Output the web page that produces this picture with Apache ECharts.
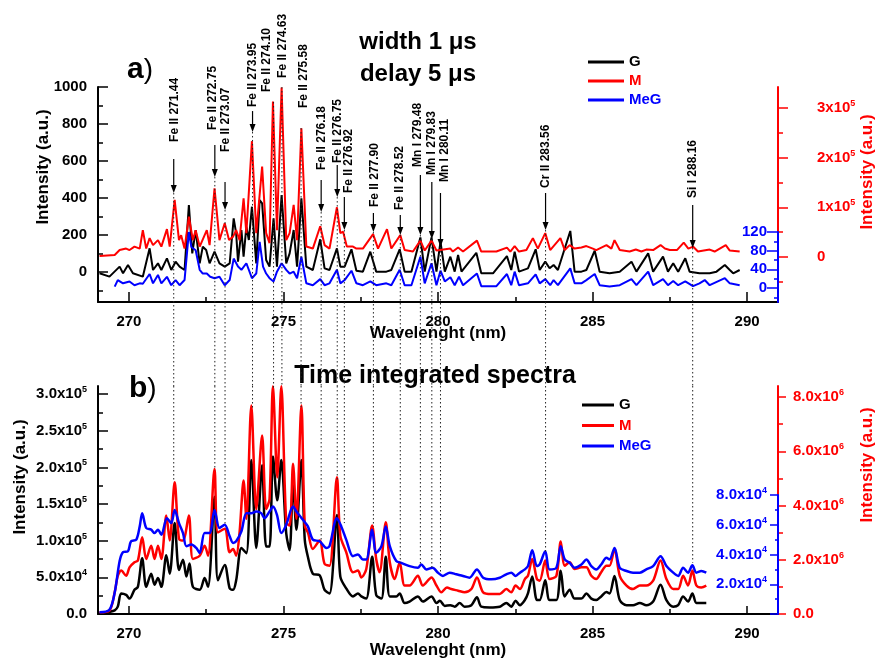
<!DOCTYPE html>
<html>
<head>
    <meta charset="utf-8">
    <title>LIBS spectra</title>
    <script src="https://cdn.jsdelivr.net/npm/echarts@6.0.0/dist/echarts.min.js"></script>
    <style>
        body { margin: 0; background: #fff; }
        #chart { width: 875px; height: 660px; }
    </style>
</head>
<body>
<div id="chart"></div>
<script>
// ---- panel a) width 1 us, delay 5 us ----
// G on left axis (a.u.)
const gA = [[269.05,-7],[269.37,-25],[269.70,29],[269.81,-7],[269.97,38],[270.13,-7],[270.45,-25],[270.67,128],[270.78,11],[270.94,47],[271.05,11],[271.23,74],[271.37,11],[271.51,56],[271.64,29],[271.80,11],[271.94,362],[272.05,101],[272.16,227],[272.29,47],[272.39,137],[272.50,119],[272.61,47],[272.77,110],[272.93,47],[273.10,29],[273.26,47],[273.39,290],[273.47,209],[273.53,56],[273.64,227],[273.71,83],[273.80,245],[273.88,173],[273.98,353],[274.12,47],[274.23,389],[274.31,371],[274.44,65],[274.55,29],[274.68,290],[274.79,29],[274.94,416],[275.09,47],[275.20,101],[275.33,227],[275.44,29],[275.58,398],[275.74,29],[275.95,11],[276.19,177],[276.33,20],[276.49,11],[276.73,128],[276.84,29],[276.98,29],[277.20,123],[277.36,7],[277.57,2],[277.81,110],[278.00,2],[278.33,2],[278.49,11],[278.76,123],[278.92,2],[279.14,2],[279.43,187],[279.57,2],[279.79,187],[279.95,2],[280.08,164],[280.22,2],[280.40,83],[280.54,2],[280.65,92],[280.76,2],[281.24,104],[281.40,-7],[281.78,-7],[282.23,86],[282.37,11],[282.48,110],[282.62,2],[282.91,20],[283.16,123],[283.29,11],[283.47,56],[283.61,20],[283.74,38],[283.88,11],[284.28,222],[284.42,2],[284.64,2],[284.80,11],[285.07,115],[285.23,2],[285.55,-7],[285.88,2],[286.26,56],[286.42,2],[286.80,101],[286.96,2],[287.28,83],[287.44,2],[287.61,47],[287.77,2],[288.00,74],[288.14,2],[288.46,-7],[288.79,-7],[289.01,2],[289.28,38],[289.44,11],[289.55,-7],[289.76,11]];
// M on red axis (x1e5)
const mA = [[269.05,0.02],[269.54,0.04],[269.70,0.14],[269.91,0.17],[270.02,0.14],[270.18,0.21],[270.35,0.17],[270.45,0.54],[270.56,0.17],[270.67,0.38],[270.78,0.24],[270.94,0.34],[271.05,0.21],[271.23,0.56],[271.32,0.21],[271.48,1.15],[271.62,0.34],[271.69,0.44],[271.80,0.17],[271.94,0.81],[272.07,0.34],[272.16,0.54],[272.29,0.21],[272.52,0.54],[272.61,0.24],[272.77,1.38],[272.93,0.34],[273.10,0.68],[273.24,0.34],[273.37,0.41],[273.47,0.54],[273.58,0.34],[273.71,1.18],[273.80,0.48],[273.98,2.33],[274.12,0.48],[274.31,1.82],[274.44,0.48],[274.55,0.28],[274.66,3.13],[274.79,0.54],[274.94,3.41],[275.09,0.34],[275.20,0.48],[275.33,1.05],[275.44,0.34],[275.58,2.59],[275.74,0.21],[275.95,0.17],[276.19,0.62],[276.33,0.24],[276.49,0.17],[276.73,1.00],[276.84,0.48],[276.93,0.51],[277.05,0.21],[277.25,0.21],[277.36,0.17],[277.57,0.17],[277.90,0.46],[278.06,0.17],[278.35,0.56],[278.49,0.17],[278.78,0.44],[278.92,0.14],[279.19,0.11],[279.43,0.33],[279.57,0.13],[279.79,0.33],[279.95,0.13],[280.40,0.17],[280.48,0.11],[280.65,0.19],[280.81,0.11],[281.26,0.33],[281.40,0.11],[281.89,0.11],[282.23,0.19],[282.34,0.11],[282.48,0.22],[282.62,0.11],[282.86,0.14],[283.07,0.38],[283.23,0.17],[283.47,0.48],[283.63,0.14],[283.96,0.38],[284.10,0.14],[284.26,0.24],[284.42,0.17],[284.64,0.19],[284.80,0.22],[285.01,0.17],[285.12,0.14],[285.45,0.24],[285.61,0.17],[285.71,0.34],[285.88,0.14],[286.20,0.11],[286.40,0.15],[286.58,0.11],[286.74,0.15],[286.96,0.14],[287.20,0.24],[287.34,0.17],[287.50,0.14],[287.73,0.14],[287.95,0.29],[288.10,0.17],[288.25,0.21],[288.41,0.11],[288.79,0.15],[288.95,0.11],[289.31,0.24],[289.44,0.13],[289.76,0.11]];
// MeG on blue axis (a.u.)
const megA = [[269.54,3],[269.64,17],[269.81,10],[270.02,14],[270.18,6],[270.35,10],[270.45,9],[270.67,30],[270.78,10],[270.94,28],[271.05,10],[271.23,24],[271.37,6],[271.51,17],[271.64,6],[271.80,17],[271.94,120],[272.02,88],[272.16,81],[272.29,39],[272.39,31],[272.52,31],[272.63,24],[272.77,21],[272.93,24],[273.10,6],[273.26,17],[273.39,63],[273.53,46],[273.64,39],[273.80,53],[273.98,21],[274.12,31],[274.23,99],[274.34,46],[274.44,31],[274.55,21],[274.68,14],[274.79,35],[274.94,53],[275.09,39],[275.20,31],[275.33,35],[275.44,21],[275.58,67],[275.74,10],[275.95,6],[276.19,19],[276.33,6],[276.49,10],[276.73,39],[276.84,10],[276.98,17],[277.20,37],[277.36,10],[277.57,6],[277.81,14],[278.00,6],[278.33,10],[278.49,6],[278.76,39],[278.92,6],[279.14,6],[279.43,67],[279.57,10],[279.79,53],[279.95,6],[280.08,37],[280.22,14],[280.40,23],[280.54,6],[280.68,24],[280.81,6],[281.26,31],[281.40,4],[281.89,4],[282.23,30],[282.37,6],[282.48,35],[282.62,6],[282.91,10],[283.16,29],[283.29,10],[283.47,19],[283.63,6],[283.74,17],[283.88,6],[284.28,42],[284.42,10],[284.64,10],[284.80,17],[285.07,30],[285.23,6],[285.55,3],[285.88,6],[286.26,19],[286.42,6],[286.80,35],[286.96,6],[287.28,19],[287.44,6],[287.61,15],[287.77,6],[288.00,14],[288.25,4],[288.46,10],[288.63,17],[288.79,6],[289.28,21],[289.44,10],[289.76,6]];

// ---- panel b) time integrated ----
// G on left axis (x1e5)
const gB = [[269.05,0.01],[269.37,0.03],[269.54,0.05],[269.64,0.10],[269.75,0.28],[269.91,0.26],[270.02,0.21],[270.18,0.33],[270.29,0.37],[270.43,0.76],[270.56,0.37],[270.72,0.55],[270.83,0.40],[270.94,0.49],[271.05,0.37],[271.21,0.80],[271.32,0.55],[271.48,1.24],[271.62,0.60],[271.75,0.74],[271.86,0.51],[271.96,0.69],[272.07,0.37],[272.29,0.33],[272.45,0.49],[272.56,0.37],[272.77,1.60],[272.88,0.46],[273.10,0.67],[273.26,0.35],[273.37,0.33],[273.47,0.46],[273.64,0.90],[273.80,0.83],[273.96,2.10],[274.12,0.90],[274.31,2.03],[274.44,0.92],[274.55,0.92],[274.66,2.15],[274.80,1.55],[274.93,2.10],[275.09,1.10],[275.20,0.87],[275.31,1.80],[275.42,1.15],[275.58,2.10],[275.69,1.01],[275.79,0.78],[275.95,0.55],[276.17,0.53],[276.33,0.33],[276.49,0.28],[276.73,1.35],[276.84,0.51],[277.03,0.35],[277.25,0.24],[277.41,0.28],[277.52,0.24],[277.68,0.21],[277.87,0.78],[278.00,0.26],[278.17,0.21],[278.31,0.78],[278.44,0.24],[278.65,0.24],[278.76,0.28],[278.92,0.15],[279.08,0.17],[279.35,0.24],[279.51,0.17],[279.79,0.24],[279.95,0.15],[280.06,0.18],[280.22,0.11],[280.40,0.12],[280.54,0.10],[280.70,0.15],[280.86,0.10],[281.08,0.12],[281.26,0.23],[281.40,0.10],[281.67,0.09],[282.00,0.10],[282.21,0.15],[282.37,0.10],[282.51,0.18],[282.65,0.12],[282.81,0.19],[282.91,0.28],[283.05,0.51],[283.20,0.19],[283.29,0.19],[283.47,0.46],[283.61,0.19],[283.83,0.19],[283.97,0.59],[284.10,0.24],[284.26,0.33],[284.42,0.21],[284.64,0.21],[284.80,0.28],[284.96,0.21],[285.12,0.19],[285.28,0.24],[285.45,0.30],[285.55,0.28],[285.71,0.52],[285.88,0.19],[286.10,0.12],[286.31,0.12],[286.53,0.15],[286.74,0.12],[286.96,0.17],[287.20,0.40],[287.39,0.19],[287.61,0.10],[287.77,0.12],[287.93,0.24],[288.09,0.17],[288.23,0.28],[288.36,0.15],[288.52,0.15],[288.68,0.15]];
// M on red axis (x1e6)
const mB = [[269.05,0.06],[269.37,0.12],[269.54,0.80],[269.64,1.41],[269.75,1.60],[269.91,1.41],[270.02,1.72],[270.18,1.91],[270.29,1.97],[270.43,2.83],[270.56,2.03],[270.72,2.52],[270.83,2.03],[270.94,2.52],[271.05,2.03],[271.21,3.63],[271.32,2.71],[271.48,4.86],[271.62,2.77],[271.75,2.71],[271.94,3.63],[272.07,2.03],[272.29,2.15],[272.45,2.52],[272.56,2.15],[272.77,5.35],[272.88,3.01],[273.10,3.14],[273.26,2.28],[273.37,2.40],[273.47,2.15],[273.58,3.01],[273.71,4.92],[273.80,3.51],[273.96,7.69],[274.12,3.87],[274.31,6.58],[274.44,3.87],[274.55,4.24],[274.66,8.40],[274.80,5.04],[274.93,8.40],[275.09,3.38],[275.20,3.26],[275.31,5.54],[275.42,3.51],[275.58,7.69],[275.69,3.26],[275.79,3.01],[275.95,2.40],[276.17,2.71],[276.33,1.85],[276.49,1.78],[276.73,5.04],[276.84,2.89],[277.03,2.28],[277.25,1.54],[277.41,1.60],[277.52,1.35],[277.68,1.66],[277.87,3.26],[278.00,2.03],[278.11,1.54],[278.31,3.38],[278.44,1.91],[278.60,1.29],[278.76,1.91],[278.92,1.05],[279.08,1.05],[279.35,1.41],[279.51,1.05],[279.79,1.35],[279.95,1.05],[280.11,0.80],[280.29,0.98],[280.43,0.92],[280.65,0.86],[280.86,0.80],[281.08,0.92],[281.26,1.35],[281.46,0.80],[281.73,0.74],[282.00,0.74],[282.21,0.92],[282.37,0.80],[282.51,1.05],[282.65,0.92],[282.81,1.29],[282.91,1.41],[283.05,2.03],[283.20,1.29],[283.29,1.23],[283.47,1.97],[283.61,1.29],[283.83,1.41],[283.97,2.67],[284.10,1.78],[284.26,1.91],[284.42,1.66],[284.64,1.72],[284.80,1.72],[284.96,1.41],[285.12,1.29],[285.28,1.54],[285.45,1.78],[285.55,1.78],[285.71,2.40],[285.88,1.41],[286.10,1.05],[286.31,0.92],[286.53,1.05],[286.74,1.05],[286.96,1.23],[287.20,1.97],[287.39,1.29],[287.61,0.92],[287.77,0.92],[287.93,1.41],[288.09,1.05],[288.23,1.60],[288.36,1.05],[288.52,0.98],[288.68,1.05]];
// MeG on blue axis (x1e4)
const megB = [[269.05,0.11],[269.37,0.29],[269.54,1.44],[269.70,3.56],[269.81,4.16],[269.97,4.22],[270.07,4.89],[270.24,5.00],[270.35,5.89],[270.43,6.78],[270.56,5.78],[270.72,5.67],[270.83,5.44],[270.94,5.67],[271.05,5.33],[271.23,6.44],[271.37,6.11],[271.48,7.00],[271.62,6.11],[271.75,5.44],[271.86,4.56],[272.02,4.67],[272.18,4.44],[272.29,4.11],[272.45,5.44],[272.61,5.44],[272.77,7.00],[272.93,5.78],[273.10,6.00],[273.26,5.22],[273.37,4.78],[273.47,4.89],[273.64,5.56],[273.80,6.78],[273.96,6.78],[274.12,6.89],[274.28,6.78],[274.39,6.44],[274.55,6.89],[274.66,7.22],[274.79,6.67],[274.93,5.44],[275.09,6.00],[275.31,7.22],[275.42,6.89],[275.63,6.33],[275.79,5.89],[275.95,5.00],[276.17,4.89],[276.39,4.44],[276.49,4.56],[276.73,6.44],[276.87,5.89],[277.03,5.00],[277.25,3.89],[277.41,4.00],[277.57,3.67],[277.68,3.67],[277.87,5.67],[278.00,4.11],[278.17,4.56],[278.31,5.89],[278.44,4.56],[278.65,3.56],[278.81,3.44],[279.08,3.22],[279.35,3.11],[279.46,3.33],[279.62,3.00],[279.82,3.11],[280.00,2.78],[280.16,2.56],[280.38,2.78],[280.59,2.67],[280.81,2.56],[281.02,2.44],[281.26,3.00],[281.46,2.44],[281.73,2.33],[282.00,2.44],[282.21,2.67],[282.37,2.78],[282.51,2.56],[282.65,2.78],[282.81,3.00],[282.91,3.22],[283.05,4.29],[283.20,3.22],[283.29,3.33],[283.47,4.22],[283.61,3.00],[283.83,3.11],[283.97,4.56],[284.10,3.67],[284.26,3.44],[284.42,3.11],[284.64,3.33],[284.80,3.67],[284.96,3.22],[285.12,3.00],[285.28,3.33],[285.45,3.78],[285.55,3.67],[285.71,4.44],[285.88,3.11],[286.10,2.89],[286.31,2.78],[286.53,2.78],[286.74,3.00],[286.96,3.22],[287.20,3.89],[287.39,3.22],[287.61,2.78],[287.77,2.56],[287.93,3.11],[288.09,2.78],[288.23,3.27],[288.36,2.78],[288.52,2.89],[288.68,2.78]];

// ---- line identification ----
const lineLabels = ['Fe II 271.44','Fe II 272.75','Fe II 273.07','Fe II 273.95','Fe II 274.10','Fe II 274.63','Fe II 275.58','Fe II 276.18','Fe II 276.75','Fe II 276.92','Fe II 277.90','Fe II 278.52','Mn I 279.48','Mn I 279.83','Mn I 280.11','Cr II 283.56','Si I 288.16'];
const lineX     = [271.45, 272.78, 273.11, 274.00, 274.68, 274.95, 275.57, 276.22, 276.74, 276.97, 277.91, 278.78, 279.43, 279.80, 280.08, 283.48, 288.24];
const labelX    = [271.48, 272.72, 273.14, 274.02, 274.47, 274.99, 275.64, 276.25, 276.74, 277.10, 277.94, 278.76, 279.34, 279.80, 280.22, 283.48, 288.23];
const labelBase = [703, 768, 649, 892, 973, 1049, 886, 551, 589, 427, 351, 335, 568, 524, 486, 454, 400];
const arrowFrom = [611, 686, 486, 870, null, null, null, 497, 578, 405, 319, 308, 524, 486, 427, 427, 362];
const arrowTo   = [427, 514, 335, 757, 919, 1000, 778, 324, 405, 227, 216, 200, 200, 178, 135, 227, 130];
const dotEndB   = [1.80, 1.96, 1.21, 2.81, 3.08, 3.11, 2.82, 1.01, 1.83, 1.24, 1.19, 0.70, 0.67, 0.63, 0.56, 0.83, 0.70];

// ---- ticks ----
const xMajor = [270, 275, 280, 285, 290];
const xMinor = [272.5, 277.5, 282.5, 287.5];
const yA = [0, 200, 400, 600, 800, 1000];
const yAMinor = [-100, 100, 300, 500, 700, 900];
const redA = [0, 1, 2, 3];
const redAMinor = [-0.5, 0.5, 1.5, 2.5];
const blueA = [0, 40, 80, 120];
const blueAMinor = [-20, 20, 60, 100];
const yB = [0, 0.5, 1, 1.5, 2, 2.5, 3];
const yBMinor = [0.25, 0.75, 1.25, 1.75, 2.25, 2.75];
const redB = [0, 2, 4, 6, 8];
const redBMinor = [1, 3, 5, 7];
const blueB = [0, 2, 4, 6, 8];
const blueBMinor = [1, 3, 5, 7];

const FONT = '"Liberation Sans", Arial, sans-serif';
const BLACK = '#000000', RED = '#ff0000', BLUE = '#0000ff';

// layout
const L = 98, W = 680;
const A_TOP = 87, A_H = 215;
const B_TOP = 386, B_H = 228;

function sup(m, e) { return '{n|' + m + 'x10}{s|' + e + '}'; }
function rich(color) {
    return {
        n: { color: color, fontFamily: FONT, fontSize: 15, fontWeight: 'bold', lineHeight: 18 },
        s: { color: color, fontFamily: FONT, fontSize: 9, fontWeight: 'bold', lineHeight: 10, verticalAlign: 'top' }
    };
}
const lbl = { fontFamily: FONT, fontSize: 15, fontWeight: 'bold' };
const plain = v => '{n|' + v + '}';

// main axis with line, big ticks and labels
function mainAxis(grid, pos, min, max, color, ticks, len, inside, margin, formatter, labelInside, extra) {
    return Object.assign({
        type: 'value', gridIndex: grid, position: pos, min: min, max: max,
        axisLine: { show: true, onZero: false, lineStyle: { color: color, width: 2 } },
        splitLine: { show: false },
        axisTick: { show: true, inside: inside, length: len, customValues: ticks, lineStyle: { color: color, width: 1.5 } },
        axisLabel: Object.assign({ show: true, inside: !!labelInside, customValues: ticks, margin: margin, color: color, formatter: formatter, rich: rich(color) }, lbl)
    }, extra || {});
}
// axis that only draws small ticks
function minorAxis(grid, pos, min, max, color, ticks, len, inside, extra) {
    return Object.assign({
        type: 'value', gridIndex: grid, position: pos, min: min, max: max,
        axisLine: { show: false, onZero: false }, splitLine: { show: false }, axisLabel: { show: false },
        axisTick: { show: true, inside: inside, length: len, customValues: ticks, lineStyle: { color: color, width: 1.5 } }
    }, extra || {});
}
function hiddenX(grid) {
    return { type: 'value', gridIndex: grid, min: 269, max: 291, show: false, axisLine: { onZero: false } };
}

const xName = { fontFamily: FONT, fontSize: 17, fontWeight: 'bold', color: BLACK };

const chart = echarts.init(document.getElementById('chart'));

function drawLabels(params, api) {
    const i = api.value(2);
    const cs = params.coordSys;
    const t = api.coord([labelX[i], labelBase[i]]);
    const tip = api.coord([lineX[i], arrowTo[i]]);
    const yEnd = cs.y + cs.height + (B_TOP - A_TOP - A_H);
    const kids = [
        { type: 'line', shape: { x1: tip[0], y1: tip[1], x2: tip[0], y2: yEnd },
          style: { stroke: '#222', lineWidth: 1, lineDash: [1.5, 2.5] } },
        { type: 'text', x: t[0], y: t[1], rotation: Math.PI / 2,
          style: { text: lineLabels[i], fill: BLACK, font: 'bold 12px ' + FONT, align: 'left', verticalAlign: 'middle' } }
    ];
    if (arrowFrom[i] !== null) {
        const top = api.coord([lineX[i], arrowFrom[i]]);
        kids.push({ type: 'line', shape: { x1: top[0], y1: top[1], x2: tip[0], y2: tip[1] - 6 },
                    style: { stroke: BLACK, lineWidth: 1.2 } });
        kids.push({ type: 'polygon', shape: { points: [[tip[0] - 3, tip[1] - 8], [tip[0] + 3, tip[1] - 8], [tip[0], tip[1]]] },
                    style: { fill: BLACK } });
    }
    return { type: 'group', children: kids };
}

function drawDots(params, api) {
    const cs = params.coordSys;
    const p = api.coord([api.value(0), api.value(1)]);
    return { type: 'line', shape: { x1: p[0], y1: cs.y, x2: p[0], y2: p[1] },
             style: { stroke: '#222', lineWidth: 1, lineDash: [1.5, 2.5] } };
}

function lineSeries(name, color, data, xi, yi, width, smooth) {
    return {
        name: name, type: 'line', data: data, xAxisIndex: xi, yAxisIndex: yi,
        showSymbol: false, symbol: 'none', smooth: smooth, clip: false,
        color: color, lineStyle: { color: color, width: width }
    };
}

function legendCfg(left, top, w, gap) {
    return {
        orient: 'vertical', left: left, top: top, padding: 0, itemGap: gap,
        itemWidth: w, itemHeight: 3, icon: 'rect', selectedMode: false,
        textStyle: { fontFamily: FONT, fontSize: 15, fontWeight: 'bold', lineHeight: 15 },
        data: [
            { name: 'G', textStyle: { color: BLACK } },
            { name: 'M', textStyle: { color: RED } },
            { name: 'MeG', textStyle: { color: BLUE } }
        ]
    };
}

function rotName(x, y, color) {
    return { type: 'text', x: x, y: y, rotation: Math.PI / 2,
             style: { text: 'Intensity (a.u.)', fill: color, font: 'bold 17px ' + FONT, align: 'center', verticalAlign: 'middle' } };
}

const option = {
    animation: false,
    backgroundColor: '#ffffff',
    grid: [
        { left: L, top: A_TOP, width: W, height: A_H, outerBoundsMode: 'none' },
        { left: L, top: 232, width: W, height: 70, outerBoundsMode: 'none' },
        { left: L, top: B_TOP, width: W, height: B_H, outerBoundsMode: 'none' },
        { left: L, top: 495, width: W, height: 119, outerBoundsMode: 'none' }
    ],
    xAxis: [
        mainAxis(0, 'bottom', 269, 291, BLACK, xMajor, 10, true, 11, plain, false,
                 { name: 'Wavelenght (nm)', nameLocation: 'middle', nameGap: 23, nameMoveOverlap: false, nameTextStyle: xName }),
        minorAxis(0, 'bottom', 269, 291, BLACK, xMinor, 5, true),
        hiddenX(1),
        mainAxis(2, 'bottom', 269, 291, BLACK, xMajor, 8, true, 11, plain, false,
                 { name: 'Wavelenght (nm)', nameLocation: 'middle', nameGap: 28, nameMoveOverlap: false, nameTextStyle: xName }),
        minorAxis(2, 'bottom', 269, 291, BLACK, xMinor, 5, true),
        hiddenX(3)
    ],
    yAxis: [
        // panel a
        mainAxis(0, 'left', -162, 1000, BLACK, yA, 10, true, 11, plain),
        minorAxis(0, 'left', -162, 1000, BLACK, yAMinor, 5, true),
        mainAxis(0, 'right', -0.905, 3.42, RED, redA, 10, false, 39,
                 v => v === 0 ? plain(0) : sup(v, 5)),
        minorAxis(0, 'right', -0.905, 3.42, RED, redAMinor, 5, false),
        mainAxis(1, 'right', -30, 120, BLUE, blueA, 11, true, 11, plain, true, { z: 5 }),
        minorAxis(1, 'right', -30, 120, BLUE, blueAMinor, 4, true, { z: 5 }),
        // panel b
        mainAxis(2, 'left', 0, 3.11, BLACK, yB, 10, true, 11,
                 v => v === 0 ? plain('0.0') : (v < 1 ? sup((v * 10).toFixed(1), 4) : sup(v.toFixed(1), 5))),
        minorAxis(2, 'left', 0, 3.11, BLACK, yBMinor, 5, true),
        mainAxis(2, 'right', 0, 8.41, RED, redB, 8, false, 15,
                 v => v === 0 ? plain('0.0') : sup(v.toFixed(1), 6)),
        minorAxis(2, 'right', 0, 8.41, RED, redBMinor, 5, false),
        mainAxis(3, 'right', 0, 8, BLUE, blueB, 8, true, 11,
                 v => v === 0 ? '' : sup(v.toFixed(1), 4), true, { z: 5 }),
        minorAxis(3, 'right', 0, 8, BLUE, blueBMinor, 3, true, { z: 5 })
    ],
    legend: [legendCfg(588, 54.5, 36, 4), legendCfg(582, 397.5, 32, 5.5)],
    graphic: [
        { type: 'text', x: 127, y: 70,
          style: { text: '{a|a}{p|)}', fill: BLACK, verticalAlign: 'middle',
                   rich: { a: { font: 'bold 30px ' + FONT, fill: BLACK }, p: { font: '28px ' + FONT, fill: BLACK } } } },
        { type: 'text', x: 129, y: 389,
          style: { text: '{a|b}{p|)}', fill: BLACK, verticalAlign: 'middle',
                   rich: { a: { font: 'bold 30px ' + FONT, fill: BLACK }, p: { font: '28px ' + FONT, fill: BLACK } } } },
        { type: 'text', x: 418, y: 42,
          style: { text: 'width 1 μs', fill: BLACK, font: 'bold 24px ' + FONT, align: 'center', verticalAlign: 'middle' } },
        { type: 'text', x: 418, y: 74,
          style: { text: 'delay 5 μs', fill: BLACK, font: 'bold 24px ' + FONT, align: 'center', verticalAlign: 'middle' } },
        { type: 'text', x: 435, y: 376,
          style: { text: 'Time integrated spectra', fill: BLACK, font: 'bold 25px ' + FONT, align: 'center', verticalAlign: 'middle' } },
        rotName(43, 167, BLACK),
        rotName(867, 172, RED),
        rotName(20, 477, BLACK),
        rotName(867, 465, RED)
    ],
    series: [
        lineSeries('G', BLACK, gA, 0, 0, 2, false),
        lineSeries('M', RED, mA, 0, 2, 2, false),
        lineSeries('MeG', BLUE, megA, 2, 4, 2, false),
        lineSeries('G', BLACK, gB, 3, 6, 2.5, 0.3),
        lineSeries('M', RED, mB, 3, 8, 2.5, 0.3),
        lineSeries('MeG', BLUE, megB, 5, 10, 2.5, 0.3),
        {
            type: 'custom', xAxisIndex: 0, yAxisIndex: 0, silent: true, z: 10,
            renderItem: drawLabels,
            data: lineX.map((x, i) => [x, arrowTo[i], i])
        },
        {
            type: 'custom', xAxisIndex: 3, yAxisIndex: 6, silent: true, z: 10,
            renderItem: drawDots,
            data: lineX.map((x, i) => [x, dotEndB[i]])
        }
    ]
};

chart.setOption(option);
</script>
</body>
</html>
